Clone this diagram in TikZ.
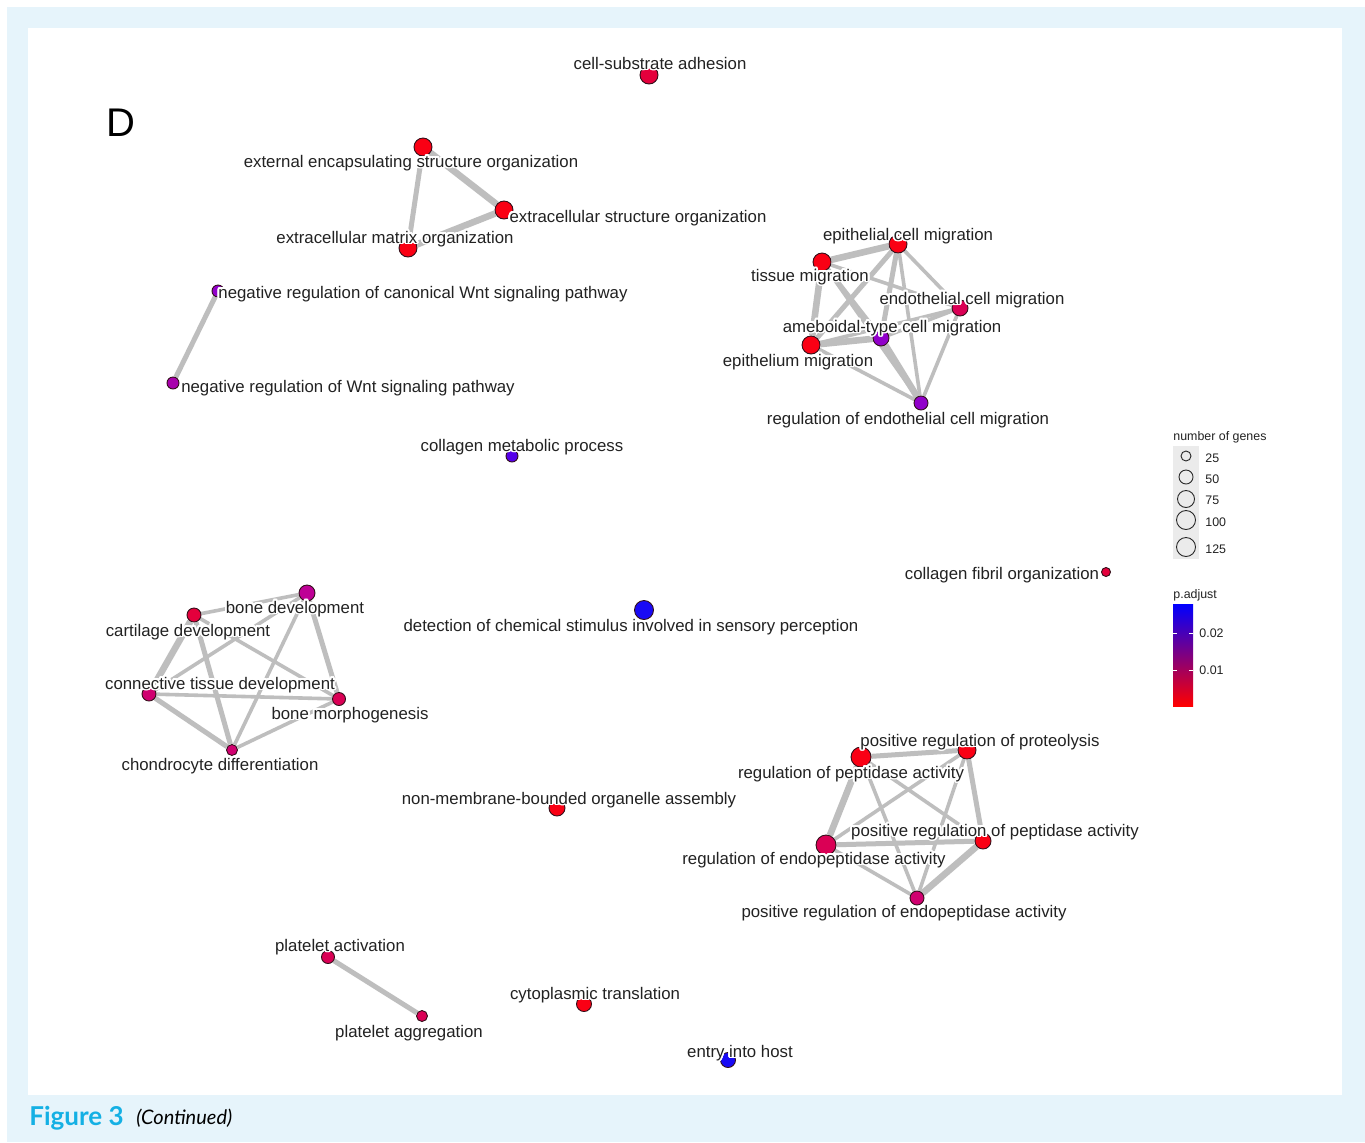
\documentclass[tikz,border=0pt]{standalone}
\usepackage{fontspec}
\setmainfont{Liberation Sans}
\newfontfamily\capfont{Lato}
\usepackage[copies]{contour}
\contourlength{0.9pt}
\contournumber{24}
\newcommand{\halo}[1]{\contour{white}{#1}}
\usetikzlibrary{calc}
\pgfdeclarelayer{bgzero}
\pgfdeclarelayer{edges}
\pgfsetlayers{bgzero,edges,main}
\definecolor{framebg}{RGB}{230,244,251}
\definecolor{capcyan}{RGB}{20,176,228}
\definecolor{edgegrey}{RGB}{190,190,190}
\definecolor{labtext}{RGB}{34,34,34}
\definecolor{nodeborder}{RGB}{50,15,25}
\definecolor{legborder}{RGB}{40,40,40}
\definecolor{leggrey}{RGB}{235,235,235}
\definecolor{barmid}{RGB}{150,0,190}
\definecolor{cRed}{RGB}{250,0,20}
\definecolor{cCrim}{RGB}{228,0,60}
\definecolor{cCrimB}{RGB}{218,0,85}
\definecolor{cMagC}{RGB}{208,0,112}
\definecolor{cMag}{RGB}{190,0,150}
\definecolor{cMagP}{RGB}{168,0,172}
\definecolor{cPurp}{RGB}{145,0,202}
\definecolor{cBluP}{RGB}{85,0,232}
\definecolor{cBlue}{RGB}{25,10,245}
\tikzset{
  gnode/.style={circle, draw=nodeborder, line width=0.45pt, inner sep=0pt, minimum size=#1pt},
  glabel/.style={anchor=base, inner sep=0pt, text=labtext, font=\fontsize{8.4}{10}\selectfont},
  thickedge/.style={draw=edgegrey, line width=3.3pt},
  midedge/.style={draw=edgegrey, line width=2.5pt},
  thinedge/.style={draw=edgegrey, line width=1.8pt},
  legtext/.style={anchor=base west, inner sep=0pt, text=labtext, font=\fontsize{6.2}{7}\selectfont},
  legcirc/.style={circle, draw=legborder, line width=0.45pt, inner sep=0pt, minimum size=#1pt}
}
\begin{document}
\begin{tikzpicture}[x=0.5pt,y=-0.5pt]
\useasboundingbox (0,0) rectangle (1365,1142);
\begin{pgfonlayer}{bgzero}
\fill[white] (0,0) rectangle (1365,1142);
\fill[framebg] (7,7) rectangle (1365,1142);
\fill[white] (28,28) rectangle (1342,1095);
\end{pgfonlayer}
% panel letter
\node[anchor=base west, inner sep=0pt, font=\fontsize{20}{24}\selectfont] (letterD) at (106,136) {D};
% caption
\node[anchor=base west, inner sep=0pt, text=capcyan, font=\capfont\bfseries\fontsize{13}{15}\selectfont] (capA) at (29,1125) {Figure 3};
\node[anchor=base west, inner sep=0pt, font=\capfont\itshape\fontsize{10}{12}\selectfont] (capB) at (136,1124) {(Continued)};

% ---- graph nodes ----
\node[gnode=9, fill=cCrim] (n1) at (649,75) {};
\node[gnode=9, fill=cRed] (n2) at (423,147) {};
\node[gnode=9, fill=cRed] (n3) at (504,210) {};
\node[gnode=9, fill=cRed] (n4) at (408,248) {};
\node[gnode=6, fill=cPurp] (n5) at (218,291) {};
\node[gnode=6, fill=cMagP] (n6) at (173,383) {};
\node[gnode=6, fill=cBluP] (n7) at (512,456) {};
\node[gnode=9, fill=cRed] (n8) at (898,244) {};
\node[gnode=9, fill=cRed] (n9) at (822,262) {};
\node[gnode=8, fill=cCrimB] (n10) at (960,308) {};
\node[gnode=8, fill=cPurp] (n11) at (881,338) {};
\node[gnode=9, fill=cRed] (n12) at (811,345) {};
\node[gnode=7, fill=cPurp] (n13) at (921,403) {};
\node[gnode=4.5, fill=cCrim] (n14) at (1106,572) {};
\node[gnode=9.5, fill=cBlue] (n15) at (644,610) {};
\node[gnode=8, fill=cMag] (n16) at (307,593) {};
\node[gnode=7, fill=cCrim] (n17) at (194,615) {};
\node[gnode=7, fill=cMagC] (n18) at (149,694) {};
\node[gnode=6.5, fill=cCrimB] (n19) at (339,699) {};
\node[gnode=5.5, fill=cMagC] (n20) at (232,750) {};
\node[gnode=9, fill=cRed] (n21) at (967,750) {};
\node[gnode=10, fill=cRed] (n22) at (861,757) {};
\node[gnode=8, fill=cRed] (n23) at (557,808) {};
\node[gnode=8, fill=cRed] (n24) at (983,841) {};
\node[gnode=10, fill=cCrimB] (n25) at (826,845) {};
\node[gnode=7, fill=cMagC] (n26) at (917,898) {};
\node[gnode=6.5, fill=cCrimB] (n27) at (328,957) {};
\node[gnode=5.5, fill=cCrimB] (n28) at (422,1016) {};
\node[gnode=7.5, fill=cRed] (n29) at (584,1004) {};
\node[gnode=7.5, fill=cBlue] (n30) at (728,1060) {};

% ---- edges ----
\begin{pgfonlayer}{edges}
\draw[thickedge] (n2) -- (n3);
\draw[thickedge] (n3) -- (n4);
\draw[midedge] (n2) -- (n4);
\draw[midedge] (n5) -- (n6);
% migration cluster
\draw[thickedge] (n8) -- (n9);
\draw[thickedge] (n9) -- (n12);
\draw[thickedge] (n12) -- (n11);
\draw[thickedge] (n11) -- (n13);
\draw[midedge] (n8) -- (n11);
\draw[midedge] (n8) -- (n12);
\draw[midedge] (n9) -- (n11);
\draw[thinedge] (n8) -- (n13);
\draw[thinedge] (n8) -- (n10);
\draw[thinedge] (n9) -- (n10);
\draw[thinedge] (n9) -- (n13);
\draw[thinedge] (n12) -- (n10);
\draw[thinedge] (n12) -- (n13);
\draw[thinedge] (n10) -- (n13);
\draw[thinedge] (n10) -- (n11);
% bone cluster
\draw[thickedge] (n17) -- (n18);
\draw[thinedge] (n16) -- (n17);
\draw[thinedge] (n16) -- (n18);
\draw[midedge] (n16) -- (n19);
\draw[thinedge] (n16) -- (n20);
\draw[thinedge] (n17) -- (n19);
\draw[midedge] (n17) -- (n20);
\draw[thinedge] (n18) -- (n19);
\draw[midedge] (n18) -- (n20);
\draw[thinedge] (n19) -- (n20);
% peptidase cluster
\draw[thickedge] (n22) -- (n25);
\draw[thickedge] (n24) -- (n26);
\draw[midedge] (n21) -- (n24);
\draw[midedge] (n22) -- (n21);
\draw[midedge] (n25) -- (n24);
\draw[thinedge] (n25) -- (n21);
\draw[thinedge] (n25) -- (n26);
\draw[thinedge] (n22) -- (n24);
\draw[thinedge] (n22) -- (n26);
\draw[thinedge] (n21) -- (n26);
% platelet
\draw[midedge] (n27) -- (n28);
\end{pgfonlayer}

% ---- labels ----
\node[glabel] (l1) at (660,69) {\halo{cell-substrate adhesion}};
\node[glabel] (l2) at (411,167) {\halo{external encapsulating structure organization}};
\node[glabel] (l3) at (638,222) {\halo{extracellular structure organization}};
\node[glabel] (l4) at (395,243) {\halo{extracellular matrix organization}};
\node[glabel] (l5) at (423,298) {\halo{negative regulation of canonical Wnt signaling pathway}};
\node[glabel] (l6) at (348,392) {\halo{negative regulation of Wnt signaling pathway}};
\node[glabel] (l7) at (522,451) {\halo{collagen metabolic process}};
\node[glabel] (l8) at (908,240) {\halo{epithelial cell migration}};
\node[glabel] (l9) at (810,281) {\halo{tissue migration}};
\node[glabel] (l10) at (972,304) {\halo{endothelial cell migration}};
\node[glabel] (l11) at (892,332) {\halo{ameboidal-type cell migration}};
\node[glabel] (l12) at (798,366) {\halo{epithelium migration}};
\node[glabel] (l13) at (908,424) {\halo{regulation of endothelial cell migration}};
\node[glabel] (l14) at (1002,579) {\halo{collagen fibril organization}};
\node[glabel] (l15) at (631,631) {\halo{detection of chemical stimulus involved in sensory perception}};
\node[glabel] (l16) at (295,613) {\halo{bone development}};
\node[glabel] (l17) at (188,636) {\halo{cartilage development}};
\node[glabel] (l18) at (220,689) {\halo{connective tissue development}};
\node[glabel] (l19) at (350,719) {\halo{bone morphogenesis}};
\node[glabel] (l20) at (220,770) {\halo{chondrocyte differentiation}};
\node[glabel] (l21) at (980,746) {\halo{positive regulation of proteolysis}};
\node[glabel] (l22) at (851,778) {\halo{regulation of peptidase activity}};
\node[glabel] (l23) at (569,804) {\halo{non-membrane-bounded organelle assembly}};
\node[glabel] (l24) at (995,836) {\halo{positive regulation of peptidase activity}};
\node[glabel] (l25) at (814,864) {\halo{regulation of endopeptidase activity}};
\node[glabel] (l26) at (904,917) {\halo{positive regulation of endopeptidase activity}};
\node[glabel] (l27) at (340,951) {\halo{platelet activation}};
\node[glabel] (l28) at (409,1037) {\halo{platelet aggregation}};
\node[glabel] (l29) at (595,999) {\halo{cytoplasmic translation}};
\node[glabel] (l30) at (740,1057) {\halo{entry into host}};

% ---- legend: number of genes ----
\node[legtext] (lgTitle) at (1173,440) {number of genes};
\fill[leggrey] (1173,446) rectangle (1199,559);
\node[legcirc=5] (lc1) at (1186,456) {};
\node[legcirc=7] (lc2) at (1186,477) {};
\node[legcirc=8.5] (lc3) at (1186,499) {};
\node[legcirc=9.5] (lc4) at (1186,520) {};
\node[legcirc=9.5] (lc5) at (1186,547) {};
\node[legtext] (lt1) at (1205,462) {25};
\node[legtext] (lt2) at (1205,483) {50};
\node[legtext] (lt3) at (1205,504) {75};
\node[legtext] (lt4) at (1205,526) {100};
\node[legtext] (lt5) at (1205,553) {125};

% ---- legend: p.adjust ----
\node[legtext] (lpTitle) at (1173,598) {p.adjust};
\shade[top color=blue, middle color=barmid, bottom color=red] (1173,604) rectangle (1193,706);
\draw[white, line width=0.5pt] (1173,633) -- (1177,633) (1189,633) -- (1193,633);
\draw[white, line width=0.5pt] (1173,670) -- (1177,670) (1189,670) -- (1193,670);
\node[legtext] (lp1) at (1199,637) {0.02};
\node[legtext] (lp2) at (1199,674) {0.01};
\end{tikzpicture}
\end{document}
